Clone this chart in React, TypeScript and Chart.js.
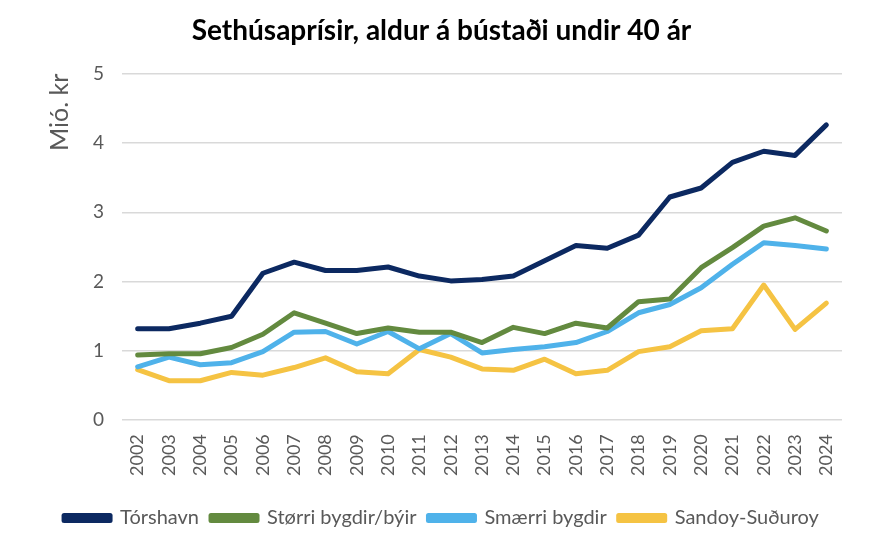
import React, { useEffect, useRef } from "react";
import { Chart, registerables } from "chart.js";

Chart.register(...registerables);

const years = ["2002","2003","2004","2005","2006","2007","2008","2009","2010","2011","2012","2013","2014","2015","2016","2017","2018","2019","2020","2021","2022","2023","2024"];
const torshavn = [1.32,1.32,1.40,1.50,2.12,2.28,2.16,2.16,2.21,2.08,2.01,2.03,2.08,2.30,2.52,2.48,2.67,3.22,3.35,3.72,3.88,3.82,4.26];
const storri = [0.94,0.96,0.96,1.05,1.24,1.55,1.40,1.25,1.33,1.27,1.27,1.12,1.34,1.25,1.40,1.33,1.71,1.75,2.20,2.49,2.80,2.92,2.73];
const smaerri = [0.77,0.91,0.80,0.83,0.99,1.27,1.28,1.10,1.28,1.03,1.25,0.97,1.02,1.06,1.12,1.28,1.55,1.67,1.91,2.25,2.56,2.52,2.47];
const sandoy = [0.73,0.57,0.57,0.69,0.65,0.76,0.90,0.70,0.67,1.02,0.91,0.74,0.72,0.88,0.67,0.72,0.99,1.06,1.29,1.32,1.95,1.31,1.69];
const seriesNames = ["Tórshavn", "Størri bygdir/býir", "Smærri bygdir", "Sandoy-Suðuroy"];
const seriesColors = ["#0c2961", "#638a3f", "#4fb2ea", "#f5c343"];
const titleText = "Sethúsaprísir, aldur á bústaði undir 40 ár";
const yTitle = "Mió. kr";

const FONT = "Lato, 'Open Sans', sans-serif";

export default function App() {
  const ref = useRef<HTMLCanvasElement>(null);
  useEffect(() => {
    if (!ref.current) return;
    const values = [torshavn, storri, smaerri, sandoy];
    const chart = new Chart(ref.current, {
      type: "line",
      data: {
        labels: years,
        datasets: values.map((d, i) => ({
          label: seriesNames[i],
          data: d,
          borderColor: seriesColors[i],
          backgroundColor: seriesColors[i],
          borderWidth: 5,
          pointRadius: 0,
          tension: 0,
          borderCapStyle: "round" as const,
          borderJoinStyle: "round" as const,
        })),
      },
      options: {
        responsive: false,
        animation: false,
        layout: { padding: { left: 41, right: 48, top: 8, bottom: 22 } },
        plugins: {
          title: {
            display: true,
            text: titleText,
            color: "#000",
            font: { family: FONT, size: 28, weight: "bold" },
            padding: { top: 6, bottom: 26 },
          },
          legend: {
            position: "bottom",
            labels: {
              boxWidth: 46,
              boxHeight: 5,
              color: "#595959",
              font: { family: FONT, size: 20 },
              padding: 12,
            },
          },
          tooltip: { enabled: false },
        },
        scales: {
          x: {
            offset: true,
            grid: { display: false },
            border: { display: false },
            afterFit: (scale: any) => {
              scale.height += 14;
            },
            ticks: {
              color: "#595959",
              font: { family: FONT, size: 18 },
              minRotation: 90,
              maxRotation: 90,
              padding: 6,
            },
          },
          y: {
            min: 0,
            max: 5,
            grid: { color: "#d9d9d9", lineWidth: 1.5, drawTicks: false },
            border: { display: false },
            ticks: {
              stepSize: 1,
              color: "#595959",
              font: { family: FONT, size: 19 },
              padding: 18,
            },
            title: {
              display: true,
              text: yTitle,
              align: "end",
              color: "#595959",
              font: { family: FONT, size: 25 },
              padding: { bottom: 0 },
            },
          },
        },
      },
    });
    return () => chart.destroy();
  }, []);
  return (
    <div style={{ position: "fixed", left: 0, top: 0, width: 890, height: 560, background: "#fff" }}>
      <canvas ref={ref} width={890} height={560} />
    </div>
  );
}
